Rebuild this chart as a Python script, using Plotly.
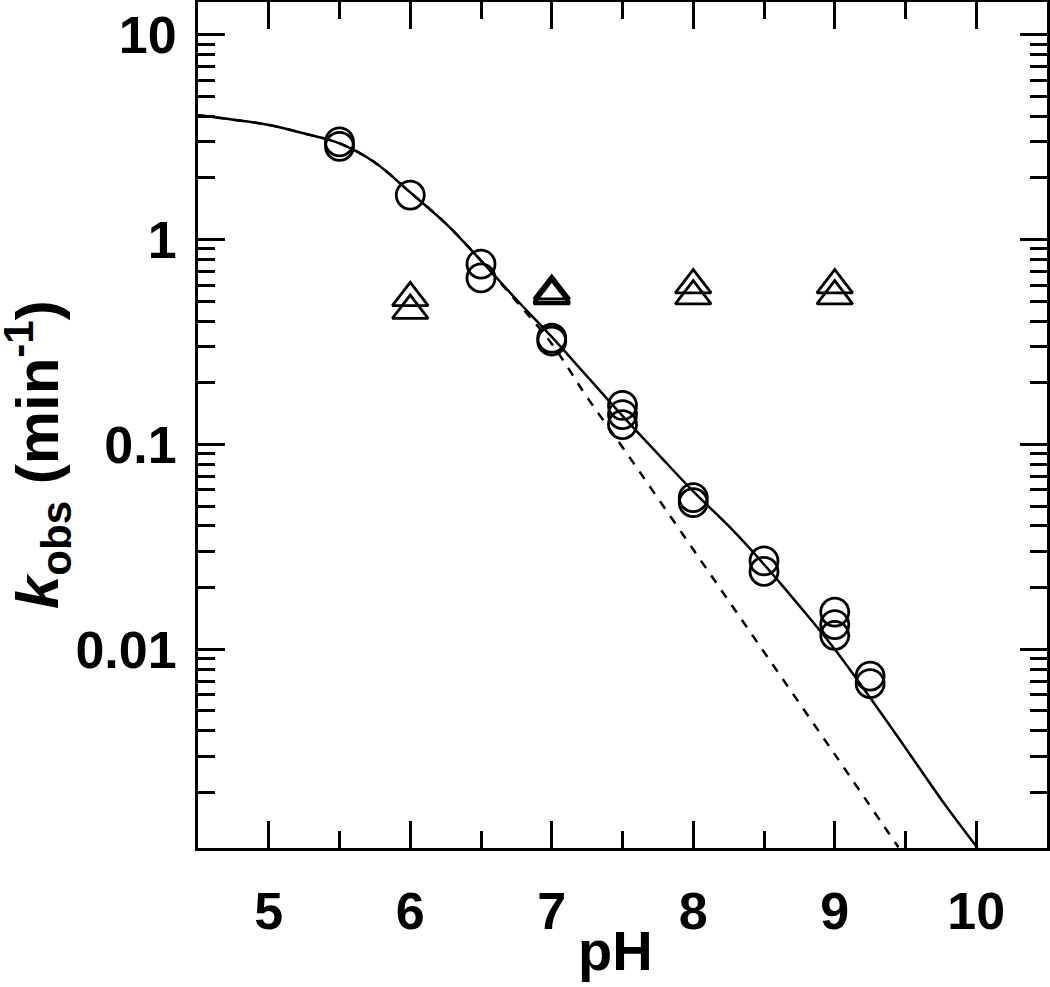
import plotly.graph_objects as go

# Data
circle_ph = [5.5, 5.5, 6.0, 6.5, 6.5, 7.0, 7.0, 7.5, 7.5, 7.5, 8.0, 8.0,
             8.5, 8.5, 9.0, 9.0, 9.0, 9.25, 9.25]
circle_k = [3.0, 2.85, 1.65, 0.76, 0.65, 0.33, 0.32, 0.155, 0.14, 0.125,
            0.055, 0.052, 0.027, 0.024, 0.0152, 0.0132, 0.0117, 0.0074, 0.0068]

tri_ph = [6.0, 6.0, 7.0, 7.0, 7.0, 8.0, 8.0, 9.0, 9.0]
tri_k = [0.52, 0.45, 0.56, 0.54, 0.53, 0.60, 0.53, 0.60, 0.53]

solid_ph = [4.5, 4.75, 5.0, 5.25, 5.5, 5.75, 6.0, 6.25, 6.5, 6.75, 7.0, 7.25,
            7.5, 7.75, 8.0, 8.25, 8.5, 8.75, 9.0, 9.25, 9.5, 9.75, 10.01]
solid_k = [4.05, 3.85, 3.63, 3.3, 2.95, 2.38, 1.70, 1.20, 0.79, 0.51, 0.335,
           0.215, 0.138, 0.090, 0.059, 0.040, 0.026, 0.0163, 0.0100, 0.0058,
           0.0033, 0.00186, 0.00107]

dash_ph = [4.5, 4.75, 5.0, 5.25, 5.5, 5.75, 6.0, 6.25, 6.5, 6.75, 7.0, 7.25,
           7.5, 8.0, 8.5, 9.0, 9.45]
dash_k = [4.05, 3.85, 3.63, 3.3, 2.95, 2.38, 1.70, 1.20, 0.79, 0.50, 0.31,
          0.17, 0.097, 0.0307, 0.0097, 0.00307, 0.00108]

y_tickvals = [0.01, 0.1, 1, 10]
y_ticktext = ["0.01", "0.1", "1", "10"]
x_tickvals = [5, 6, 7, 8, 9, 10]

FONT = "Liberation Sans, Arial, sans-serif"

fig = go.Figure()

fig.add_trace(go.Scatter(x=dash_ph, y=dash_k, mode="lines",
                         line=dict(color="black", width=2.5, dash="dash", shape="spline"),
                         showlegend=False))
fig.add_trace(go.Scatter(x=solid_ph, y=solid_k, mode="lines",
                         line=dict(color="black", width=2.5, shape="spline"),
                         showlegend=False))
fig.add_trace(go.Scatter(x=circle_ph, y=circle_k, mode="markers",
                         marker=dict(symbol="circle-open", size=28, color="black",
                                     line=dict(color="black", width=2.8)),
                         showlegend=False))
fig.add_trace(go.Scatter(x=tri_ph, y=tri_k, mode="markers",
                         marker=dict(symbol="triangle-up-open", size=31, color="black",
                                     line=dict(color="black", width=2.8)),
                         showlegend=False))

fig.update_layout(
    width=1050, height=987,
    margin=dict(l=198, r=3, t=2, b=139),
    paper_bgcolor="white", plot_bgcolor="white",
    font=dict(family=FONT, color="black"),
)

fig.update_xaxes(
    range=[4.5, 10.5], tickvals=x_tickvals,
    ticks="inside", ticklen=27, tickwidth=3, tickcolor="black",
    minor=dict(ticks="inside", dtick=0.5, tick0=4.5, ticklen=17, tickwidth=3, tickcolor="black"),
    showline=True, linewidth=3, linecolor="black", mirror="ticks",
    showgrid=False, zeroline=False, automargin=False,
    tickfont=dict(size=52, weight="bold", family=FONT),
    ticklabelstandoff=16,
)

fig.update_yaxes(
    type="log", range=[-2.97, 1.16], tickvals=y_tickvals, ticktext=y_ticktext,
    ticks="inside", ticklen=27, tickwidth=3, tickcolor="black",
    minor=dict(ticks="inside", dtick="D1", ticklen=17, tickwidth=3, tickcolor="black"),
    showline=True, linewidth=3, linecolor="black", mirror="ticks",
    showgrid=False, zeroline=False, automargin=False,
    tickfont=dict(size=52, weight="bold", family=FONT),
    ticklabelstandoff=8,
)

# y-axis title
fig.add_annotation(
    text="<b><i>k</i><sub>obs</sub> (min<sup>-1</sup>)</b>",
    xref="paper", yref="paper", x=(38 - 198) / 849, y=(848 - 455) / 846,
    xanchor="center", yanchor="middle", textangle=-90, showarrow=False,
    font=dict(size=60, family=FONT, color="black"),
)

# x-axis title
fig.add_annotation(
    text="<b>pH</b>",
    xref="paper", yref="paper", x=(615 - 198) / 849, y=(848 - 984) / 846,
    xanchor="center", yanchor="bottom", showarrow=False,
    font=dict(size=56, family=FONT, color="black"),
)

fig.write_html(
    "out.html",
    config={"displayModeBar": False},
    post_script="document.body.style.margin='0px';document.body.style.overflow='hidden';",
)
